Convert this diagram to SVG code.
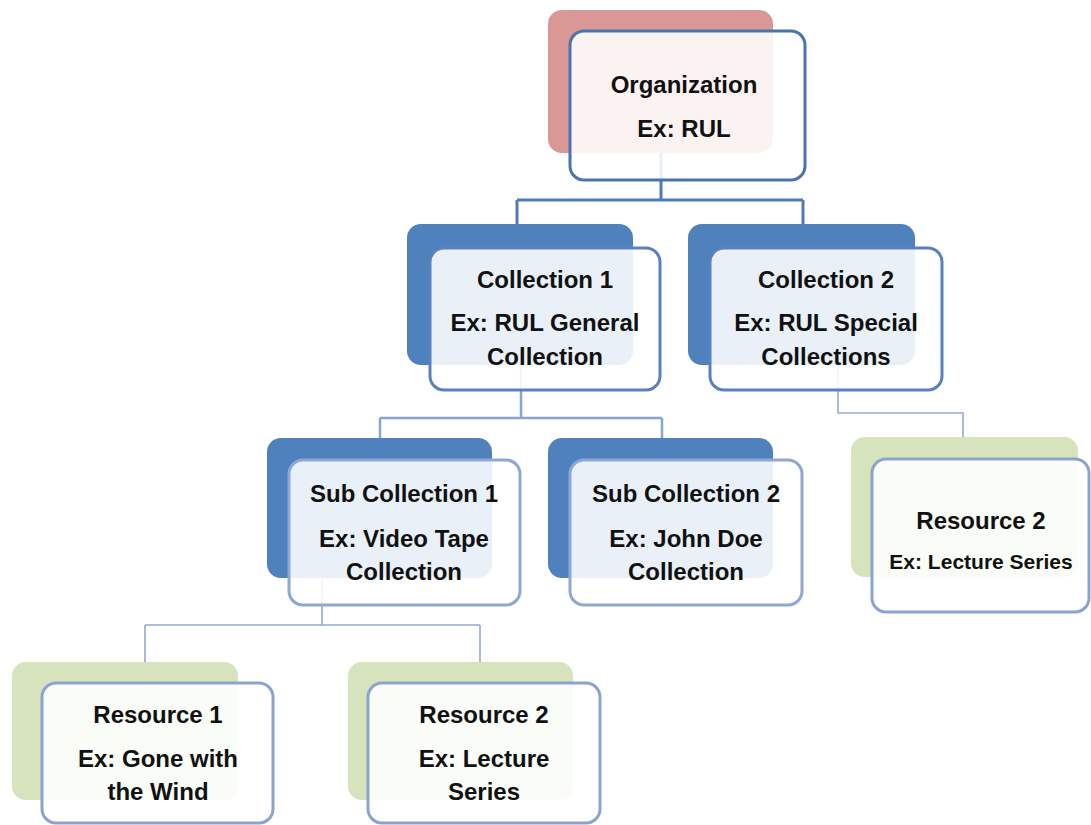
<svg xmlns="http://www.w3.org/2000/svg" width="1091" height="825" viewBox="0 0 1091 825">
  <style>
    .bg { fill: #ffffff; }
    .back-org { fill: #d99896; }
    .back-col { fill: #4f81bd; }
    .back-res { fill: #d6e3bd; }
    .front { fill: #ffffff; fill-opacity: 0.88; stroke-width: 3; }
    .f-org { stroke: #4a74ae; }
    .f-col { stroke: #5a80bf; }
    .f-sub { stroke: #8ea8d3; }
    .f-res { stroke: #8da3cf; }
    .conn { fill: none; stroke-linejoin: miter; }
    .c1 { stroke: #4f7cb8; stroke-width: 3; }
    .c2 { stroke: #89a6d3; stroke-width: 2.5; }
    .c3 { stroke: #93aad3; stroke-width: 1.6; }
    text { font-family: "Liberation Sans", Arial, sans-serif; font-weight: bold; font-size: 24px; fill: #111111; text-anchor: middle; }
    .small { font-size: 21px; }
  </style>
  <rect class="bg" x="0" y="0" width="1091" height="825"/>

  <g id="connectors">
    <path class="conn c1" d="M661,153 V200 M517,200 H803 M517,200 V224 M803,200 V224"/>
    <path class="conn c2" d="M521,365 V418 M380,418 H662 M380,418 V438 M662,418 V438"/>
    <path class="conn c3" d="M838,365 V413 H963 V437"/>
    <path class="conn c3" d="M322,578 V625 M145,625 H480 M145,625 V662 M480,625 V662"/>
  </g>

  <g id="organization">
    <rect class="back-org" x="548" y="10" width="225" height="143" rx="14"/>
    <rect class="front f-org" x="570" y="31" width="235" height="149" rx="14"/>
    <text x="684" y="93">Organization</text>
    <text x="684" y="137">Ex: RUL</text>
  </g>

  <g id="collection1">
    <rect class="back-col" x="407" y="224" width="226" height="141" rx="14"/>
    <rect class="front f-col" x="430" y="248" width="230" height="142" rx="14"/>
    <text x="545" y="288">Collection 1</text>
    <text x="545" y="331">Ex: RUL General</text>
    <text x="545" y="365">Collection</text>
  </g>

  <g id="collection2">
    <rect class="back-col" x="688" y="224" width="227" height="141" rx="14"/>
    <rect class="front f-col" x="710" y="248" width="232" height="142" rx="14"/>
    <text x="826" y="288">Collection 2</text>
    <text x="826" y="331">Ex: RUL Special</text>
    <text x="826" y="365">Collections</text>
  </g>

  <g id="subcollection1">
    <rect class="back-col" x="267" y="438" width="225" height="140" rx="14"/>
    <rect class="front f-sub" x="289" y="460" width="231" height="145" rx="14"/>
    <text x="404" y="502">Sub Collection 1</text>
    <text x="404" y="547">Ex: Video Tape</text>
    <text x="404" y="580">Collection</text>
  </g>

  <g id="subcollection2">
    <rect class="back-col" x="548" y="438" width="225" height="140" rx="14"/>
    <rect class="front f-sub" x="570" y="460" width="232" height="145" rx="14"/>
    <text x="686" y="502">Sub Collection 2</text>
    <text x="686" y="547">Ex: John Doe</text>
    <text x="686" y="580">Collection</text>
  </g>

  <g id="resource2-right">
    <rect class="back-res" x="851" y="437" width="227" height="140" rx="14"/>
    <rect class="front f-res" x="872" y="459" width="217" height="153" rx="14"/>
    <text x="981" y="529">Resource 2</text>
    <text class="small" x="981" y="569">Ex: Lecture Series</text>
  </g>

  <g id="resource1">
    <rect class="back-res" x="12" y="662" width="226" height="138" rx="14"/>
    <rect class="front f-res" x="42" y="683" width="231" height="140" rx="14"/>
    <text x="158" y="723">Resource 1</text>
    <text x="158" y="767">Ex: Gone with</text>
    <text x="158" y="800">the Wind</text>
  </g>

  <g id="resource2">
    <rect class="back-res" x="348" y="662" width="225" height="138" rx="14"/>
    <rect class="front f-res" x="368" y="683" width="232" height="140" rx="14"/>
    <text x="484" y="723">Resource 2</text>
    <text x="484" y="767">Ex: Lecture</text>
    <text x="484" y="800">Series</text>
  </g>
</svg>
